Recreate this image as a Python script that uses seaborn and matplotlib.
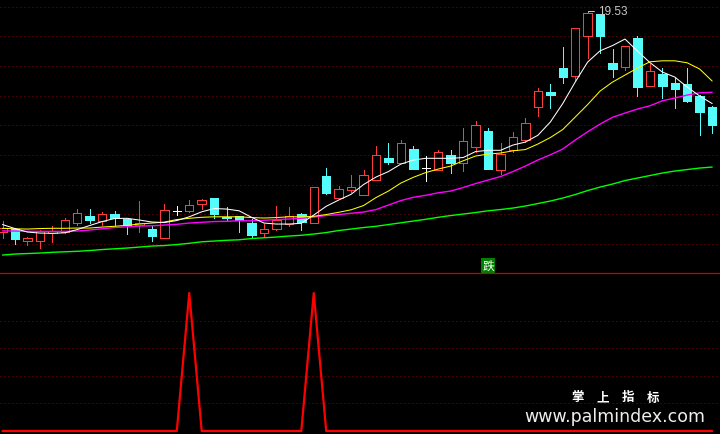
import numpy as np
import pandas as pd
import matplotlib
matplotlib.use("Agg")
import matplotlib.pyplot as plt
import seaborn as sns

# ---------------- data ----------------
opens = [10.78, 10.90, 10.44, 10.44, 10.73, 10.78, 11.16, 11.42, 11.21, 11.50,
         11.30, 11.08, 10.90, 10.55, 11.63, 11.61, 11.92, 12.14, 11.40, 11.41,
         11.14, 10.73, 10.89, 11.12, 11.50, 11.13, 13.03, 12.14, 12.46, 12.28,
         12.88, 13.74, 13.56, 14.10, 13.33, 13.27, 13.86, 13.53, 14.20, 14.82,
         13.27, 14.08, 14.47, 15.79, 16.37, 17.33, 17.03, 18.61, 19.52, 17.54,
         17.37, 18.53, 16.63, 17.10, 16.74, 16.70, 16.22, 15.77]
highs = [11.22, 10.94, 10.58, 10.86, 11.02, 11.34, 11.70, 11.70, 11.58, 11.62,
         11.32, 12.02, 11.03, 11.90, 11.82, 12.06, 12.10, 12.15, 11.77, 11.44,
         11.30, 11.10, 11.81, 11.77, 11.56, 12.57, 13.34, 12.63, 13.06, 13.26,
         14.21, 14.34, 14.46, 14.23, 13.83, 14.06, 14.06, 14.94, 15.21, 14.94,
         14.34, 14.78, 15.33, 16.53, 16.70, 18.17, 18.93, 19.53, 19.52, 18.10,
         18.21, 18.63, 17.50, 17.33, 16.93, 17.33, 16.28, 15.82]
lows = [10.54, 10.30, 10.28, 10.14, 10.40, 10.76, 11.07, 11.14, 11.07, 11.07,
        10.70, 10.79, 10.43, 10.54, 11.46, 11.60, 11.70, 11.33, 11.22, 10.79,
        10.54, 10.63, 10.88, 11.03, 10.87, 11.13, 12.30, 12.14, 12.40, 12.28,
        12.88, 13.51, 13.54, 13.30, 12.83, 13.27, 13.15, 13.23, 13.98, 13.30,
        13.10, 13.98, 14.40, 15.43, 15.73, 16.74, 16.87, 17.74, 17.93, 17.00,
        17.28, 16.23, 16.63, 16.16, 15.75, 15.99, 14.66, 14.75]
closes = [10.94, 10.50, 10.54, 10.82, 10.83, 11.26, 11.54, 11.26, 11.49, 11.35,
          11.07, 11.13, 10.63, 11.66, 11.63, 11.85, 12.05, 11.51, 11.33, 11.26,
          10.66, 10.90, 11.28, 11.41, 11.20, 12.57, 12.34, 12.50, 12.57, 13.05,
          13.85, 13.59, 14.33, 13.30, 13.33, 13.97, 13.55, 14.41, 15.06, 13.30,
          13.90, 14.57, 15.13, 16.41, 16.27, 16.99, 18.93, 19.53, 18.61, 17.30,
          18.21, 16.59, 17.24, 16.63, 16.50, 16.03, 15.59, 15.07]

ma5 = [11.08, 10.92, 10.78, 10.74, 10.73, 10.75, 10.88, 11.04, 11.20, 11.32,
       11.33, 11.26, 11.18, 11.16, 11.24, 11.39, 11.59, 11.72, 11.70, 11.63,
       11.37, 11.14, 11.10, 11.10, 11.13, 11.46, 11.81, 12.06, 12.29, 12.68,
       12.98, 13.20, 13.50, 13.66, 13.73, 13.73, 13.73, 13.76, 14.00, 14.05,
       14.05, 14.26, 14.38, 14.65, 15.18, 15.92, 16.78, 17.58, 18.03, 18.24,
       18.50, 18.02, 17.56, 17.18, 16.98, 16.58, 16.22, 15.92]
ma10 = [10.93, 10.91, 10.90, 10.92, 10.93, 10.93, 10.94, 10.94, 10.98, 11.01,
        11.05, 11.10, 11.14, 11.18, 11.28, 11.33, 11.37, 11.39, 11.39, 11.39,
        11.36, 11.34, 11.36, 11.39, 11.39, 11.41, 11.48, 11.57, 11.67, 11.84,
        12.16, 12.42, 12.74, 12.97, 13.16, 13.30, 13.42, 13.63, 13.82, 13.90,
        13.94, 14.03, 14.08, 14.30, 14.56, 14.88, 15.38, 15.88, 16.42, 16.78,
        17.06, 17.34, 17.59, 17.63, 17.63, 17.55, 17.30, 16.82]
ma20 = [10.83, 10.82, 10.81, 10.81, 10.81, 10.81, 10.82, 10.86, 10.91, 10.96,
        10.99, 11.02, 11.03, 11.06, 11.09, 11.14, 11.17, 11.20, 11.21, 11.23,
        11.23, 11.25, 11.28, 11.30, 11.33, 11.38, 11.44, 11.48, 11.53, 11.58,
        11.68, 11.86, 12.04, 12.17, 12.25, 12.35, 12.42, 12.56, 12.72, 12.86,
        13.00, 13.20, 13.42, 13.66, 13.87, 14.10, 14.46, 14.79, 15.10, 15.37,
        15.54, 15.70, 15.83, 16.03, 16.14, 16.26, 16.35, 16.37]
ma60 = [9.86, 9.90, 9.92, 9.94, 9.97, 9.99, 10.01, 10.04, 10.08, 10.11,
        10.14, 10.18, 10.22, 10.24, 10.28, 10.33, 10.39, 10.42, 10.45, 10.47,
        10.52, 10.55, 10.58, 10.62, 10.65, 10.70, 10.76, 10.84, 10.90, 10.96,
        11.01, 11.08, 11.15, 11.22, 11.29, 11.37, 11.44, 11.50, 11.56, 11.63,
        11.68, 11.74, 11.82, 11.92, 12.02, 12.14, 12.28, 12.44, 12.58, 12.70,
        12.84, 12.94, 13.04, 13.14, 13.22, 13.28, 13.34, 13.38]

signal = [0, 0, 0, 0, 0, 0, 0, 0, 0, 0,
          0, 0, 0, 0, 0, 1, 0, 0, 0, 0,
          0, 0, 0, 0, 0, 1, 0, 0, 0, 0,
          0, 0, 0, 0, 0, 0, 0, 0, 0, 0,
          0, 0, 0, 0, 0, 0, 0, 0, 0, 0,
          0, 0, 0, 0, 0, 0, 0, 0]

label_idx = [39]
label_txt = ["跌"]
watermark_cn = ["掌", "上", "指", "标"]
watermark_url = "www.palmindex.com"

# ---------------- style ----------------
sns.set_theme(style="dark", rc={"axes.facecolor": "black",
                                "figure.facecolor": "black",
                                "savefig.facecolor": "black",
                                "lines.linewidth": 0.75})
plt.rcParams["font.family"] = ["DejaVu Sans", "Noto Sans CJK SC"]

RED = "#FF3C3C"
CYAN = "#54FCFC"
GRID = "#8C0000"

W, H = 720, 435
STEP = 12.45      # pixels per bar
X0 = 2.5          # pixel of first bar
PPP = 0.04        # price per pixel in the main panel
TOP_H = 273

n = len(closes)
x = np.arange(n)
O = np.array(opens); C = np.array(closes)
Hh = np.array(highs); L = np.array(lows)

fig = plt.figure(figsize=(W / 100, H / 100), dpi=100)
ax = fig.add_axes([0, (H - TOP_H) / H, 1, TOP_H / H])
axb = fig.add_axes([0, 0, 1, (H - 274) / H])

xlim = (-X0 / STEP, (W - X0) / STEP)
ytop = Hh.max() + 14.3 * PPP
ax.set_xlim(*xlim)
ax.set_ylim(ytop - TOP_H * PPP, ytop)

for a in (ax, axb):
    a.set_facecolor("black")
    a.tick_params(left=False, bottom=False, labelleft=False, labelbottom=False)
    for s in a.spines.values():
        s.set_visible(False)
    a.set_xlabel(""); a.set_ylabel("")

# grid (dotted dark red)
ax.set_yticks(ytop - PPP * (7.5 + 29.7 * np.arange(9)))
ax.set_xticks([])
ax.grid(True, axis="y", color=GRID, lw=0.72, linestyle=(0, (1, 3)))

# ---------------- candles ----------------
up = C > O
dn = C < O
dj = C == O
bw = 0.68
LW = 0.72
ax.vlines(x[up], L[up], Hh[up], color=RED, lw=LW, zorder=2, antialiased=False)
ax.bar(x[up], (C - O)[up], bottom=O[up], width=bw, facecolor="black",
       edgecolor=RED, lw=LW, zorder=2.5, antialiased=False)
ax.vlines(x[dn], L[dn], Hh[dn], color=CYAN, lw=LW, zorder=2, antialiased=False)
ax.bar(x[dn], (C - O)[dn], bottom=O[dn], width=bw, facecolor=CYAN,
       edgecolor=CYAN, lw=0.5, zorder=2.5, antialiased=False)
ax.vlines(x[dj], L[dj], Hh[dj], color="white", lw=LW, zorder=2.5, antialiased=False)
ax.hlines(C[dj], x[dj] - 0.31, x[dj] + 0.31, color="white", lw=LW, zorder=2.5,
          antialiased=False)

# ---------------- moving averages (seaborn) ----------------
df = pd.DataFrame({"i": x, "ma5": ma5, "ma10": ma10, "ma20": ma20, "ma60": ma60,
                   "sig": signal})
for col, colr, lw in [("ma60", "#00FF00", 1.0), ("ma20", "#FF00FF", 1.0),
                      ("ma10", "#FFFF00", 0.75), ("ma5", "#FFFFFF", 0.75)]:
    sns.lineplot(data=df, x="i", y=col, color=colr, linewidth=lw, ax=ax,
                 estimator=None, legend=False, zorder=3)
for ln in ax.get_lines():
    pass
ax.set_xlabel(""); ax.set_ylabel("")

# max-price marker
hi = int(np.argmax(Hh))
ax.annotate(f"{Hh[hi]:.2f}", xy=(x[hi], Hh[hi]), xytext=(10, 2.5),
            textcoords="offset pixels", color="#C8C8C8", fontsize=8.5,
            family="Liberation Sans", ha="left", va="center", zorder=5,
            arrowprops=dict(arrowstyle="-", color="#C8C8C8", lw=0.7,
                            shrinkA=0, shrinkB=1,
                            connectionstyle="angle,angleA=0,angleB=90,rad=0"))

# signal label
ybot = ytop - TOP_H * PPP
for i, t in zip(label_idx, label_txt):
    ax.text(x[i], ybot + 6.5 * PPP, t, color="white", fontsize=8.5,
            family=["Noto Sans CJK SC", "DejaVu Sans"], ha="center", va="center",
            zorder=6,
            bbox=dict(boxstyle="square,pad=0.08", fc="#008000", ec="none"))

# ---------------- lower panel ----------------
axb.set_xlim(*xlim)
axb.set_ylim(-3 / 138, (432 - 274) / 138)
axb.set_yticks([0.2, 0.4, 0.6, 0.8])
axb.set_xticks([])
axb.grid(True, axis="y", color=GRID, lw=0.72, linestyle=(0, (1, 3)))
axb.spines["top"].set_visible(True)
axb.spines["top"].set_color("#D00000")
axb.spines["top"].set_linewidth(0.9)
sns.lineplot(data=df, x="i", y="sig", color="#FF0000", linewidth=1.6, ax=axb,
             estimator=None, legend=False, zorder=3)
axb.set_xlabel(""); axb.set_ylabel("")

# watermark
for cx, ch in zip([577.5, 602.5, 627.5, 653], watermark_cn):
    fig.text(cx / W, 1 - 398 / H, ch, color="white", fontsize=9, fontweight="bold",
             family=["Noto Sans CJK SC", "DejaVu Sans"], ha="center", va="center")
fig.text(615 / W, 1 - 417 / H, watermark_url, color="#EEEEEE", fontsize=12.5,
         ha="center", va="center")

fig.savefig("out.png", dpi=100, facecolor="black")
